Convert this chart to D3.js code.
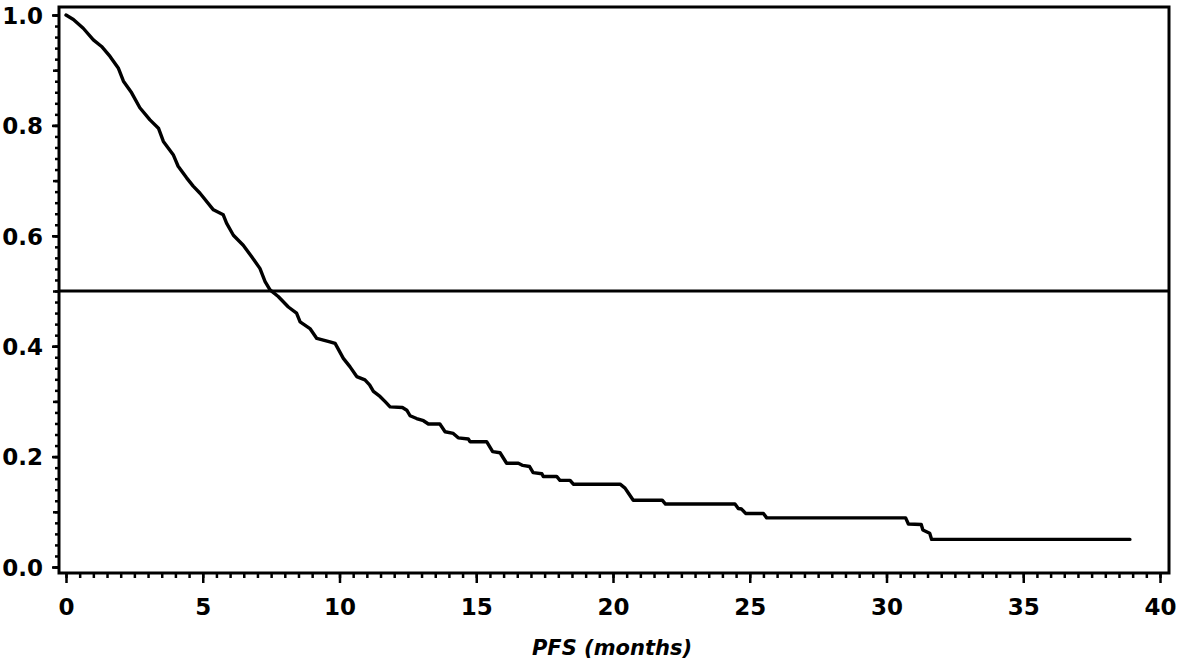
<!DOCTYPE html>
<html>
<head>
<meta charset="utf-8">
<script src="https://cdn.jsdelivr.net/npm/d3@7"></script>
<style>
  body { margin: 0; background: #fff; }
  svg { display: block; }
  svg text { font-family: "DejaVu Sans", sans-serif; }
</style>
</head>
<body>
<svg id="chart" width="1181" height="661"></svg>
<script>
// Kaplan-Meier PFS curve (months, survival)
var pfsMonths = [0, 0.27, 0.63, 1.0, 1.3, 1.61, 1.91, 2.1, 2.4, 2.7, 3.07, 3.38, 3.56, 3.92, 4.1, 4.41, 4.65,
  4.9, 5.39, 5.75, 5.87, 6.12, 6.48, 6.79, 7.09, 7.28, 7.46, 7.76, 8.13, 8.43, 8.56, 8.92, 9.17, 9.65, 9.84,
  10.14, 10.38, 10.63, 10.93, 11.1, 11.24, 11.48, 11.66, 11.85, 12.3, 12.46, 12.58, 12.82, 13.07, 13.25, 13.67,
  13.86, 14.16, 14.34, 14.71, 14.77, 15.38, 15.6, 15.87, 16.11, 16.54, 16.7, 16.95, 17.08, 17.4, 17.45, 17.94,
  18.06, 18.43, 18.55, 20.26, 20.44, 20.56, 20.74, 21.8, 21.92, 24.46, 24.58, 24.7, 24.85, 25.5, 25.62, 30.7,
  30.8, 31.27, 31.33, 31.58, 31.65, 38.9];
var pfsSurvival = [1.0, 0.992, 0.976, 0.955, 0.943, 0.925, 0.904, 0.880, 0.859, 0.832, 0.810, 0.795, 0.771, 0.747, 0.726, 0.705, 0.690,
  0.677, 0.647, 0.638, 0.623, 0.601, 0.583, 0.562, 0.541, 0.517, 0.502, 0.490, 0.471, 0.460, 0.444, 0.432, 0.414, 0.408, 0.405,
  0.378, 0.363, 0.345, 0.339, 0.330, 0.318, 0.309, 0.300, 0.290, 0.289, 0.284, 0.274, 0.269, 0.265, 0.259, 0.259,
  0.245, 0.242, 0.234, 0.232, 0.227, 0.227, 0.209, 0.207, 0.188, 0.188, 0.184, 0.182, 0.171, 0.169, 0.164, 0.164,
  0.157, 0.157, 0.150, 0.150, 0.143, 0.134, 0.121, 0.121, 0.114, 0.114, 0.106, 0.105, 0.097, 0.097, 0.089, 0.089,
  0.078, 0.077, 0.067, 0.061, 0.050, 0.050];

var xTicks = [0, 5, 10, 15, 20, 25, 30, 35, 40];
var yTicks = [0.0, 0.2, 0.4, 0.6, 0.8, 1.0];
var medianLevel = 0.5;
var xTitle = "PFS (months)";

(function() {
  var svg = d3.select("#chart");

  // frame edges, and where the data range sits inside them
  var frame = {left: 59, top: 7, right: 1169, bottom: 573};

  var x = d3.scaleLinear().domain([0, 40]).range([66, 1160]);
  var y = d3.scaleLinear().domain([0, 1]).range([567, 15]);

  // x axis: minor every half month, major every 5
  var xMinor = svg.append("g")
    .attr("transform", "translate(0," + frame.bottom + ")")
    .call(d3.axisBottom(x).tickValues(d3.range(0, 40.01, 0.5)).tickSize(5).tickFormat(""));

  var xMajor = svg.append("g")
    .attr("transform", "translate(0," + frame.bottom + ")")
    .call(d3.axisBottom(x).tickValues(xTicks).tickSize(10).tickFormat(d3.format("d")));

  xMajor.selectAll("text")
    .attr("y", 42)
    .attr("dy", null);

  // y axis: minor every 0.02, medium every 0.1, labelled every 0.2
  var yMinor = svg.append("g")
    .attr("transform", "translate(" + frame.left + ",0)")
    .call(d3.axisLeft(y).tickValues(d3.range(0, 1.001, 0.02)).tickSize(4).tickFormat(""));

  var yMid = svg.append("g")
    .attr("transform", "translate(" + frame.left + ",0)")
    .call(d3.axisLeft(y).tickValues(d3.range(0, 1.001, 0.1)).tickSize(6).tickFormat(""));

  var yMajor = svg.append("g")
    .attr("transform", "translate(" + frame.left + ",0)")
    .call(d3.axisLeft(y).tickValues(yTicks).tickSize(7).tickPadding(9).tickFormat(d3.format(".1f")));

  yMajor.selectAll("text")
    .attr("dy", "0.36em");

  [xMinor, xMajor, yMinor, yMid, yMajor].forEach(function(g) {
    g.attr("font-family", null).attr("font-size", null);
    g.select(".domain").remove();
    g.selectAll("line").attr("stroke", "#000").attr("stroke-width", 2.5);
  });

  svg.selectAll(".tick text")
    .attr("fill", "#000")
    .style("font-family", "'DejaVu Sans', sans-serif")
    .style("font-size", "23px")
    .style("font-weight", "bold");

  // frame
  svg.append("rect")
    .attr("x", frame.left)
    .attr("y", frame.top)
    .attr("width", frame.right - frame.left)
    .attr("height", frame.bottom - frame.top)
    .attr("fill", "none")
    .attr("stroke", "#000")
    .attr("stroke-width", 3);

  // median reference line
  svg.append("line")
    .attr("x1", frame.left)
    .attr("x2", frame.right)
    .attr("y1", y(medianLevel))
    .attr("y2", y(medianLevel))
    .attr("stroke", "#000")
    .attr("stroke-width", 3);

  var points = pfsMonths.map(function(t, i) { return [t, pfsSurvival[i]]; });

  var line = d3.line()
    .x(function(d) { return x(d[0]); })
    .y(function(d) { return y(d[1]); })
    .curve(d3.curveLinear);

  svg.append("path")
    .datum(points)
    .attr("d", line)
    .attr("fill", "none")
    .attr("stroke", "#000")
    .attr("stroke-width", 3.4)
    .attr("stroke-linejoin", "round")
    .attr("stroke-linecap", "round");

  svg.append("text")
    .attr("x", 612)
    .attr("y", 655)
    .attr("text-anchor", "middle")
    .style("font-size", "21px")
    .style("font-weight", "bold")
    .style("font-style", "italic")
    .text(xTitle);
})();
</script>
</body>
</html>
